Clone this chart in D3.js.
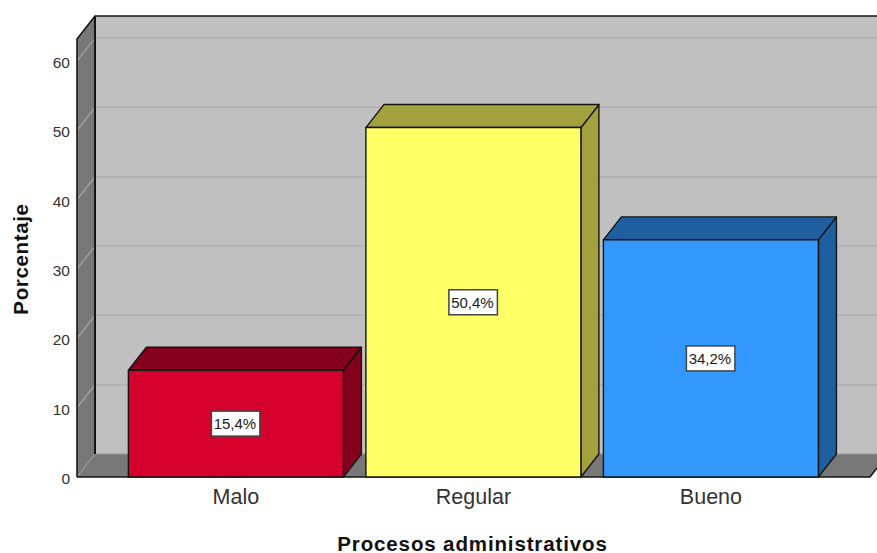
<!DOCTYPE html>
<html>
<head>
<meta charset="utf-8">
<script src="https://cdn.jsdelivr.net/npm/d3@7"></script>
<style>
  html, body { margin: 0; padding: 0; background: #fff; }
  svg { display: block; }
  text { font-family: "Liberation Sans", Arial, sans-serif; }
</style>
</head>
<body>
<svg id="chart" width="877" height="553"></svg>
<script>
// Bar chart values
const categories = ["Malo", "Regular", "Bueno"];
const percentages = [15.4, 50.4, 34.2];
const percentLabels = ["15,4%", "50,4%", "34,2%"];
const yTicks = [0, 10, 20, 30, 40, 50, 60];
const frontColors = ["#d6002c", "#ffff66", "#3399ff"];
const shadeColors = ["#85001c", "#a3a03e", "#1f5f9f"];

const width = 877, height = 553;
const left = 77, base = 477, topValueY = 61;
const depthX = 18, depthY = 23;
const chartRight = 870;

const svg = d3.select("#chart");
const y = d3.scaleLinear().domain([0, 60]).range([base, topValueY]);
const x = d3.scaleBand().domain(categories)
  .range([117.15, 829.65]).paddingInner(0.0947).paddingOuter(0.0473);

const poly = pts => "M" + pts.map(p => p.join(",")).join("L") + "Z";
const frame = "#141414";

// Box walls: back, left side and floor
const wallTop = 16;
const wallLeft = left + depthX;
svg.append("rect").attr("x", wallLeft).attr("y", wallTop)
  .attr("width", width - wallLeft).attr("height", y(0) - depthY - wallTop).attr("fill", "#c0c0c0");
svg.append("path")
  .attr("d", poly([[left, y(0)], [left, wallTop + depthY], [wallLeft, wallTop], [wallLeft, y(0) - depthY]]))
  .attr("fill", "#787878");
svg.append("path")
  .attr("d", poly([[left, y(0)], [wallLeft, y(0) - depthY], [chartRight + depthX, y(0) - depthY], [chartRight, y(0)]]))
  .attr("fill", "#787878");

// Gridlines run across the back wall and fold down the side wall
const grid = svg.append("g").attr("fill", "none");
yTicks.filter(v => v > 0).forEach(v => {
  const yy = y(v);
  grid.append("line").attr("x1", wallLeft).attr("x2", width)
    .attr("y1", yy - depthY).attr("y2", yy - depthY)
    .attr("stroke", "#b0b0b0").attr("stroke-width", 1.5);
  grid.append("line").attr("x1", left).attr("x2", wallLeft)
    .attr("y1", yy).attr("y2", yy - depthY)
    .attr("stroke", "#a8a8a8").attr("stroke-width", 1.2);
});
grid.append("line").attr("x1", left).attr("x2", wallLeft)
  .attr("y1", y(0)).attr("y2", y(0) - depthY).attr("stroke", "#a0a0a0");

// Outlines of the box
const edges = svg.append("g").attr("fill", "none").attr("stroke", frame);
edges.append("path").attr("stroke-width", 1.6)
  .attr("d", `M${left},${y(0)}V${wallTop + depthY}L${wallLeft},${wallTop}H${width}`);
edges.append("path").attr("stroke-width", 2)
  .attr("d", `M${wallLeft},${wallTop}V${y(0) - depthY}`);
edges.append("path").attr("stroke-width", 1.2).attr("stroke", "#9a9a9a")
  .attr("d", `M${wallLeft + 1},${y(0) - depthY}H${width}`);
edges.append("path").attr("stroke-width", 1.6)
  .attr("d", `M${left},${y(0)}H${chartRight}L${chartRight + depthX},${y(0) - depthY}`);

// Extruded bars
const bars = svg.append("g").selectAll("g").data(categories).join("g");
bars.each(function (c, i) {
  const g = d3.select(this);
  const x0 = x(c), x1 = x0 + x.bandwidth();
  const top = y(percentages[i]);
  const line = { stroke: frame, "stroke-width": 1.4, "stroke-linejoin": "round" };
  const shape = (d, fill) => {
    const p = g.append("path").attr("d", d).attr("fill", fill);
    Object.entries(line).forEach(([k, v]) => p.attr(k, v));
  };
  shape(poly([[x1, top], [x1 + depthX, top - depthY], [x1 + depthX, base - depthY], [x1, base]]), shadeColors[i]);
  shape(poly([[x0, top], [x0 + depthX, top - depthY], [x1 + depthX, top - depthY], [x1, top]]), shadeColors[i]);
  shape(poly([[x0, top], [x1, top], [x1, base], [x0, base]]), frontColors[i]);
});

// Value labels in white boxes at the middle of each bar
const labels = svg.append("g").selectAll("g").data(categories).join("g")
  .attr("transform", (c, i) => `translate(${x(c) + x.bandwidth() / 2},${(y(percentages[i]) + base) / 2})`);
labels.append("rect").attr("x", -24.5).attr("y", -12.5).attr("width", 48.5).attr("height", 25)
  .attr("fill", "#fff").attr("stroke", "#444").attr("stroke-width", 1.5);
labels.append("text").attr("text-anchor", "middle").attr("x", -1).attr("dy", "0.36em")
  .attr("font-size", 15).attr("fill", "#1a1a1a")
  .text((c, i) => percentLabels[i]);

// Axes
const yAxis = svg.append("g").attr("transform", `translate(${left},0)`)
  .call(d3.axisLeft(y).tickValues(yTicks).tickSize(0).tickPadding(7));
yAxis.select(".domain").remove();
yAxis.selectAll("text").attr("font-size", 15.5).attr("fill", "#333").attr("dy", "0.42em")
  .style("font-family", '"Liberation Sans", Arial, sans-serif');

const xAxis = svg.append("g").attr("transform", `translate(0,${base})`)
  .call(d3.axisBottom(x).tickSize(0).tickPadding(12));
xAxis.select(".domain").remove();
xAxis.selectAll("text").attr("font-size", 21.5).attr("fill", "#333")
  .style("font-family", '"Liberation Sans", Arial, sans-serif');

svg.append("text").attr("x", 472.5).attr("y", 550.5).attr("text-anchor", "middle")
  .attr("font-size", 20.5).attr("font-weight", "bold").attr("fill", "#111")
  .attr("letter-spacing", 0.87)
  .text("Procesos administrativos");
svg.append("text").attr("transform", "translate(27.5,259) rotate(-90)").attr("text-anchor", "middle")
  .attr("font-size", 20.5).attr("font-weight", "bold").attr("fill", "#111")
  .attr("letter-spacing", 0.65)
  .text("Porcentaje");
</script>
</body>
</html>
